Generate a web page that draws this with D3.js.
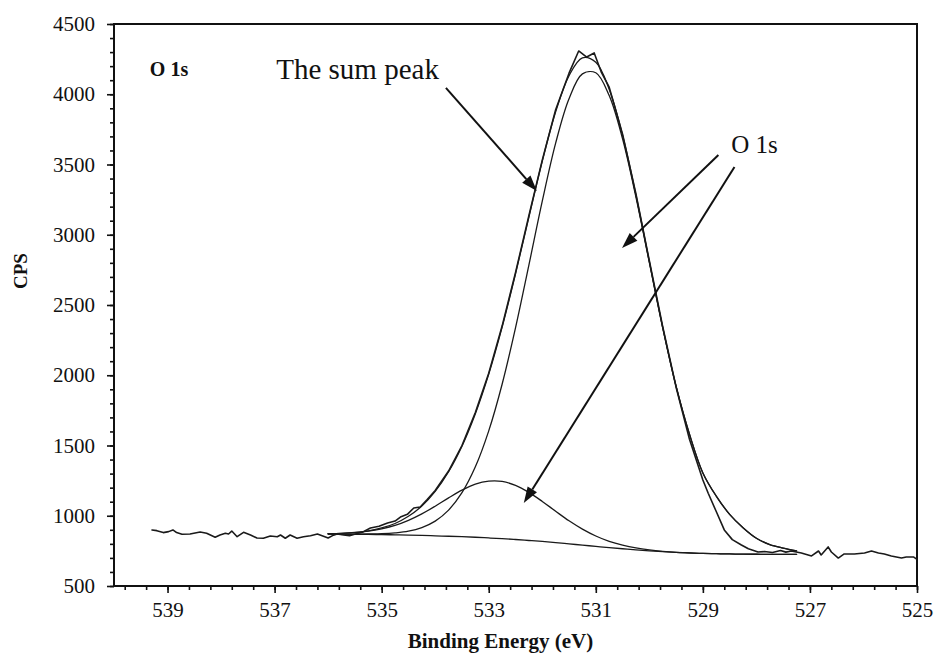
<!DOCTYPE html>
<html>
<head>
<meta charset="utf-8">
<script src="https://cdn.jsdelivr.net/npm/d3@7"></script>
<style>
  body { margin: 0; background: #fff; }
  text { font-family: "Liberation Serif", "Times New Roman", serif; fill: #111; }
</style>
</head>
<body>
<svg id="chart" width="940" height="665"></svg>
<script>
// O 1s XPS spectrum: measured counts, Shirley background, two fitted components and their sum.

// Energy grid (eV) shared by the fitted curves
const fitEnergy = [536.0, 535.75, 535.5, 535.25, 535.0, 534.75, 534.5, 534.25, 534.0, 533.75,
  533.5, 533.25, 533.0, 532.75, 532.5, 532.25, 532.0, 531.75, 531.5, 531.25,
  531.0, 530.75, 530.5, 530.25, 530.0, 529.75, 529.5, 529.25, 529.0, 528.75,
  528.5, 528.25, 528.0, 527.75, 527.5, 527.25];
const background = [870, 869, 868, 867, 866, 864, 862, 860, 857, 854,
  851, 847, 842, 837, 831, 824, 817, 809, 800, 791,
  782, 773, 765, 757, 750, 744, 739, 735, 732, 730,
  728, 727, 726, 725, 725, 725];
const componentMain = [870, 869, 869, 870, 872, 878, 890, 916, 962, 1040,
  1164, 1348, 1604, 1936, 2337, 2784, 3239, 3652, 3968, 4145,
  4153, 3991, 3682, 3268, 2803, 2338, 1920, 1580, 1305, 1140,
  1010, 915, 840, 795, 770, 750];
const componentMinor = [873, 875, 880, 890, 907, 931, 967, 1013, 1068, 1127,
  1182, 1225, 1246, 1244, 1216, 1166, 1102, 1032, 964, 905,
  856, 818, 791, 771, 757, 747, 740, 736, 732, 730,
  728, 727, 726, 725, 725, 725];
const envelope = [873, 875, 881, 893, 913, 945, 996, 1069, 1173, 1313,
  1495, 1726, 2008, 2343, 2722, 3126, 3524, 3875, 4132, 4259,
  4227, 4036, 3708, 3282, 2810, 2341, 1922, 1581, 1305, 1140,
  1010, 915, 840, 795, 770, 750];

// Measured spectrum
const rawEnergy = [539.29, 539.20, 539.08, 538.98, 538.90, 538.83, 538.73, 538.58, 538.39, 538.27,
  538.11, 538.02, 537.92, 537.86, 537.80, 537.70, 537.58, 537.45, 537.33, 537.21,
  537.08, 536.95, 536.89, 536.80, 536.71, 536.58, 536.46, 536.33, 536.20, 536.10,
  536.00, 535.90, 535.83, 535.71, 535.60, 535.49, 535.35, 535.21, 535.05, 534.89,
  534.75, 534.65, 534.52, 534.40, 534.28, 534.15, 534.00, 533.75, 533.50, 533.25,
  533.00, 532.75, 532.50, 532.25, 532.00, 531.75, 531.50, 531.32, 531.17, 531.03,
  530.90, 530.75, 530.50, 530.25, 530.00, 529.75, 529.50, 529.25, 529.00, 528.90,
  528.75, 528.60, 528.45, 528.28, 528.15, 527.97, 527.85, 527.70, 527.55, 527.45,
  527.35, 527.16, 526.97, 526.84, 526.79, 526.66, 526.60, 526.47, 526.36, 526.17,
  525.98, 525.85, 525.72, 525.61, 525.48, 525.29, 525.20, 525.06, 525.00];
const rawCps = [899, 894, 880, 887, 899, 880, 868, 870, 884, 875,
  847, 863, 875, 870, 891, 851, 882, 863, 842, 840,
  856, 851, 863, 840, 863, 840, 851, 858, 870, 856,
  842, 862, 870, 863, 858, 870, 885, 913, 925, 949,
  962, 991, 1010, 1055, 1062, 1115, 1180, 1318, 1500, 1735,
  2015, 2350, 2730, 3135, 3530, 3890, 4150, 4308, 4265, 4294,
  4160, 4050, 3715, 3290, 2815, 2345, 1915, 1545, 1255, 1160,
  1030, 899, 830, 792, 765, 742, 745, 738, 752, 741,
  749, 735, 714, 749, 721, 778, 742, 699, 728, 728,
  735, 749, 735, 728, 714, 699, 706, 706, 690];

// Axis ticks
const xMajorTicks = [539, 537, 535, 533, 531, 529, 527, 525];
const xMinorTicks = d3.range(0, 38).map(i => +(525 + 0.4 * i).toFixed(1));
const yMajorTicks = [500, 1000, 1500, 2000, 2500, 3000, 3500, 4000, 4500];
const yMinorTicks = d3.range(500, 4501, 100);

// Annotations (positions in eV / CPS)
const annotationLabels = [
  { text: "O 1s", e: 539.33, c: 4130, size: 20, weight: "bold" },
  { text: "The sum peak", e: 536.97, c: 4108, size: 29, weight: "normal" },
  { text: "O 1s", e: 528.47, c: 3585, size: 25, weight: "normal" }
];
const annotationArrows = [
  { from: [533.80, 4045], to: [532.10, 3311] },
  { from: [528.71, 3568], to: [530.51, 2906] },
  { from: [528.41, 3482], to: [532.345, 1091] }
];

const svg = d3.select("#chart");
const plot = { left: 114, right: 917, top: 24, bottom: 586 };

const x = d3.scaleLinear().domain([540, 525]).range([plot.left, plot.right]);
const y = d3.scaleLinear().domain([500, 4500]).range([plot.bottom, plot.top]);

// Minor and major ticks on the bottom axis
const gxMinor = svg.append("g").attr("transform", `translate(0,${plot.bottom})`)
  .call(d3.axisBottom(x).tickValues(xMinorTicks).tickSize(4).tickFormat(""));
const gxMajor = svg.append("g").attr("transform", `translate(0,${plot.bottom})`)
  .call(d3.axisBottom(x).tickValues(xMajorTicks).tickSize(7).tickPadding(9).tickFormat(d3.format("d")));
gxMajor.selectAll("text")
  .style("font-family", '"Liberation Serif", "Times New Roman", serif')
  .style("font-size", "21px").attr("fill", "#111");

// Minor and major ticks on the left axis
const gyMinor = svg.append("g").attr("transform", `translate(${plot.left},0)`)
  .call(d3.axisLeft(y).tickValues(yMinorTicks).tickSize(4).tickFormat(""));
const gyMajor = svg.append("g").attr("transform", `translate(${plot.left},0)`)
  .call(d3.axisLeft(y).tickValues(yMajorTicks).tickSize(7).tickPadding(12).tickFormat(d3.format("d")));
gyMajor.selectAll("text")
  .style("font-family", '"Liberation Serif", "Times New Roman", serif')
  .style("font-size", "21px").attr("fill", "#111");

[gxMinor, gxMajor, gyMinor, gyMajor].forEach(g => {
  g.select(".domain").remove();
  g.selectAll("line").attr("stroke", "#111").attr("stroke-width", 1.6);
});

// Plot frame
svg.append("rect")
  .attr("x", plot.left).attr("y", plot.top)
  .attr("width", plot.right - plot.left).attr("height", plot.bottom - plot.top)
  .attr("fill", "none").attr("stroke", "#111").attr("stroke-width", 2);

// Axis titles
svg.append("text")
  .attr("x", (plot.left + plot.right) / 2 - 15).attr("y", 648)
  .attr("text-anchor", "middle")
  .style("font-size", "21px").style("font-weight", "bold")
  .text("Binding Energy (eV)");
svg.append("text")
  .attr("transform", "translate(27,271) rotate(-90)")
  .attr("text-anchor", "middle")
  .style("font-size", "19px").style("font-weight", "bold")
  .text("CPS");

// Curves
const line = d3.line()
  .x(d => x(d[0]))
  .y(d => y(d[1]))
  .curve(d3.curveCatmullRom.alpha(0.5));

const fitSeries = [background, componentMinor, componentMain, envelope];
const curves = svg.append("g").attr("fill", "none").attr("stroke", "#1a1a1a")
  .attr("stroke-linejoin", "round").attr("stroke-linecap", "round");

curves.selectAll("path.fit")
  .data(fitSeries)
  .join("path")
  .attr("class", "fit")
  .attr("stroke-width", 1.3)
  .attr("d", vals => line(fitEnergy.map((e, i) => [e, vals[i]])));

curves.append("path")
  .attr("stroke-width", 1.6)
  .attr("d", d3.line().x(d => x(d[0])).y(d => y(d[1]))(rawEnergy.map((e, i) => [e, rawCps[i]])));

// Annotation labels
svg.append("g").selectAll("text")
  .data(annotationLabels)
  .join("text")
  .attr("x", d => x(d.e)).attr("y", d => y(d.c))
  .style("font-size", d => d.size + "px")
  .style("font-weight", d => d.weight)
  .text(d => d.text);

// Annotation arrows with filled heads
const arrows = svg.append("g");
annotationArrows.forEach(a => {
  const x1 = x(a.from[0]), y1 = y(a.from[1]);
  const x2 = x(a.to[0]), y2 = y(a.to[1]);
  const ang = Math.atan2(y2 - y1, x2 - x1);
  const headLen = 16, headHalf = 5.5;
  const bx = x2 - headLen * Math.cos(ang), by = y2 - headLen * Math.sin(ang);
  arrows.append("line")
    .attr("x1", x1).attr("y1", y1).attr("x2", bx).attr("y2", by)
    .attr("stroke", "#111").attr("stroke-width", 2);
  const px = -Math.sin(ang), py = Math.cos(ang);
  arrows.append("polygon")
    .attr("points", [
      [x2, y2],
      [bx + headHalf * px, by + headHalf * py],
      [bx - headHalf * px, by - headHalf * py]
    ].map(p => p.join(",")).join(" "))
    .attr("fill", "#111");
});
</script>
</body>
</html>
